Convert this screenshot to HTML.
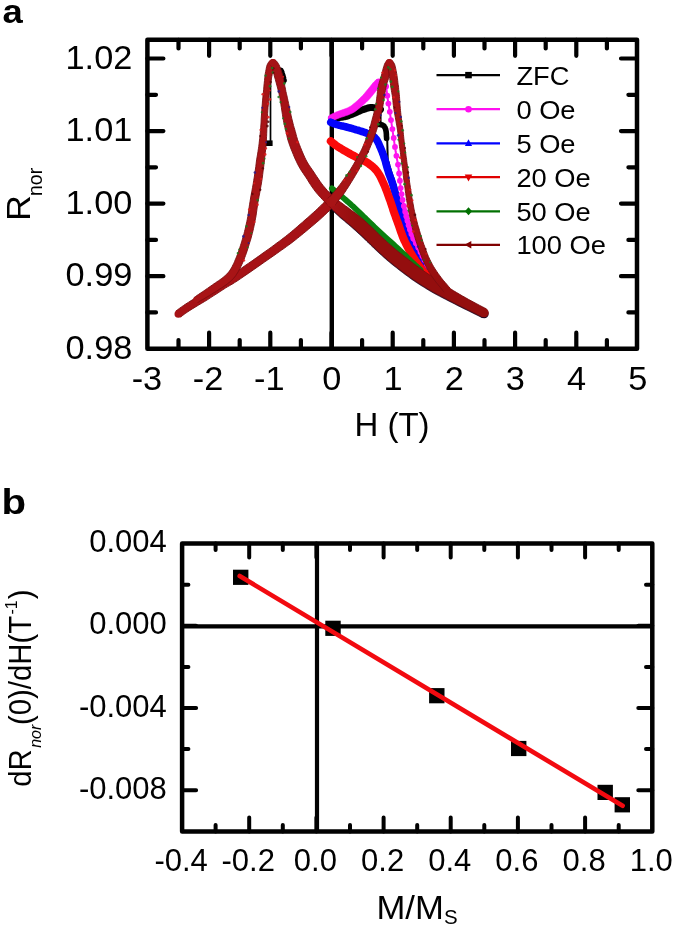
<!DOCTYPE html>
<html><head><meta charset="utf-8"><title>Figure</title>
<style>html,body{margin:0;padding:0;background:#fff;}body{width:675px;height:928px;overflow:hidden;}svg{display:block;will-change:transform;opacity:0.9999;}text{font-family:"Liberation Sans",sans-serif;fill:#000;}</style>
</head><body>
<svg width="675" height="928" viewBox="0 0 675 928">
<rect x="0" y="0" width="675" height="928" fill="#ffffff"/>
<defs><linearGradient id="wg" gradientUnits="userSpaceOnUse" x1="0" y1="205" x2="0" y2="285"><stop offset="0" stop-color="#a81416"/><stop offset="0.5" stop-color="#a41214"/><stop offset="1" stop-color="#940e0e"/></linearGradient><linearGradient id="wr" gradientUnits="userSpaceOnUse" x1="330" y1="0" x2="356" y2="0"><stop offset="0" stop-color="#a61216"/><stop offset="1" stop-color="#940e0e"/></linearGradient></defs>
<g id="curvesA">
<line x1="331.8" y1="39.8" x2="331.8" y2="348.7" stroke="#000" stroke-width="4.4"/>
<line x1="270.5" y1="78" x2="270.5" y2="143" stroke="#000" stroke-width="1.7"/>
<rect x="265.4" y="140.4" width="7.2" height="5.6" fill="#000"/>
<polyline points="280.6,71.0 280.7,71.4 280.9,71.9 281.1,72.6 281.3,73.2 281.6,74.0 281.8,74.7 282.0,75.4 282.2,76.0 282.4,76.6 282.5,77.2 282.7,77.7 282.8,78.3 283.0,78.8 283.1,79.3 283.2,79.7 283.3,80.0" fill="none" stroke="#000" stroke-width="7.0" stroke-linejoin="round" stroke-linecap="round" />
<path d="M328.3,206.6 L329.6,207.8 L331.4,209.5 L333.5,211.5 L335.9,213.7 L338.2,215.8 L340.3,217.8 L342.4,219.5 L344.4,221.1 L346.3,222.8 L348.2,224.3 L350.1,225.9 L352.0,227.6 L353.9,229.3 L355.9,231.0 L357.9,232.9 L359.9,234.7 L361.8,236.5 L363.6,238.2 L365.2,239.7 L366.6,241.1 L368.0,242.4 L369.4,243.8 L370.9,245.3 L372.5,246.8 L374.2,248.5 L376.1,250.3 L378.0,252.1 L380.0,253.9 L381.9,255.6 L383.7,257.3 L385.4,258.7 L386.8,260.0 L388.3,261.3 L389.9,262.6 L391.6,264.0 L393.7,265.7 L396.2,267.6 L399.1,269.9 L402.2,272.3 L405.4,274.7 L408.7,277.1 L411.8,279.4 L414.9,281.5 L417.9,283.5 L421.0,285.5 L424.0,287.3 L427.0,289.2 L430.0,291.0 L433.0,292.8 L436.1,294.4 L439.2,296.1 L442.3,297.7 L445.4,299.3 L448.5,300.9 L451.6,302.5 L454.7,304.1 L457.8,305.7 L460.9,307.2 L463.8,308.7 L466.7,310.1 L469.6,311.5 L472.6,313.0 L475.6,314.5 L478.3,315.8 L480.5,316.9 L482.2,317.7 L486.2,309.7 L484.6,308.8 L482.4,307.7 L479.7,306.3 L476.9,304.8 L473.9,303.2 L471.1,301.7 L468.3,300.2 L465.4,298.5 L462.5,296.9 L459.6,295.2 L456.6,293.4 L453.7,291.7 L450.9,289.9 L448.0,288.0 L445.2,286.1 L442.3,284.2 L439.5,282.3 L436.6,280.4 L433.7,278.5 L430.8,276.6 L427.9,274.7 L425.1,272.8 L422.2,270.8 L419.4,268.8 L416.4,266.6 L413.3,264.3 L410.2,261.9 L407.2,259.5 L404.4,257.3 L401.9,255.3 L399.8,253.7 L398.1,252.4 L396.7,251.2 L395.3,250.1 L393.9,248.9 L392.3,247.5 L390.5,246.0 L388.7,244.3 L386.8,242.6 L384.9,240.9 L383.0,239.2 L381.3,237.6 L379.8,236.1 L378.4,234.7 L377.0,233.4 L375.6,231.9 L374.1,230.4 L372.4,228.8 L370.6,227.1 L368.6,225.3 L366.6,223.4 L364.5,221.5 L362.3,219.6 L360.2,217.8 L358.1,216.1 L356.0,214.5 L354.0,213.0 L351.9,211.5 L349.9,210.0 L347.9,208.4 L345.6,206.8 L343.1,204.9 L340.6,203.1 L338.2,201.3 L336.2,199.9 L334.7,198.8Z" fill="#1a0420" stroke="#1a0420" stroke-width="0.6" stroke-linejoin="round"/><circle cx="331.5" cy="202.7" r="5.00" fill="#1a0420"/><circle cx="484.2" cy="313.7" r="4.50" fill="#1a0420"/>
<polyline points="331.5,119.0 332.2,118.9 333.1,118.7 334.2,118.5 335.4,118.3 336.7,118.1 338.0,117.9 339.3,117.6 340.4,117.4 341.4,117.2 342.4,117.0 343.4,116.9 344.4,116.7 345.4,116.5 346.4,116.3 347.5,116.0 348.7,115.6 350.0,115.1 351.5,114.5 353.0,113.9 354.6,113.2 356.2,112.5 357.7,111.8 359.2,111.2 360.6,110.6 361.9,110.1 363.2,109.6 364.5,109.2 365.7,108.7 366.8,108.4 367.9,108.0 369.0,107.8 370.0,107.6 370.9,107.5 371.8,107.5 372.6,107.5 373.3,107.6 374.0,107.8 374.7,107.9 375.3,108.1 376.0,108.2 376.7,108.3 377.3,108.5 378.0,108.7 378.6,108.9 379.2,109.1 379.7,109.3 380.2,109.5 380.5,109.6" fill="none" stroke="#000" stroke-width="7.0" stroke-linejoin="round" stroke-linecap="round" />
<line x1="380.7" y1="108" x2="380.7" y2="124" stroke="#000" stroke-width="1.7"/>
<polyline points="377.1,124.2 377.6,124.3 378.3,124.3 379.1,124.4 379.9,124.5 380.8,124.6 381.7,124.8 382.5,125.1 383.1,125.4 383.6,125.8 384.1,126.2 384.4,126.7 384.8,127.2 385.1,127.8 385.3,128.5 385.6,129.2 385.8,130.0 386.0,130.9 386.2,132.0 386.3,133.3 386.4,134.5 386.4,135.8 386.5,136.9 386.6,137.8 386.6,138.5" fill="none" stroke="#000" stroke-width="5.6" stroke-linejoin="round" stroke-linecap="round" />
<line x1="387.2" y1="138" x2="387.8" y2="163" stroke="#000" stroke-width="2.0"/>
<path d="M332.4,121.0 L333.0,120.7 L333.8,120.3 L334.7,119.9 L335.7,119.4 L336.8,118.9 L338.1,118.4 L339.7,117.8 L341.7,117.1 L343.9,116.4 L346.1,115.6 L348.2,114.9 L350.0,114.1 L351.5,113.5 L352.6,113.0 L353.7,112.4 L354.8,111.7 L355.9,110.9 L357.2,109.9 L358.7,108.7 L360.5,107.3 L362.3,105.8 L364.3,104.1 L366.2,102.3 L368.1,100.4 L370.0,98.4 L372.0,96.1 L373.9,93.7 L375.7,91.5 L377.3,89.6 L378.6,88.1 L379.5,87.1 L380.1,86.5 L380.5,86.1 L380.8,85.8 L381.1,85.6 L381.5,85.3 L376.5,79.5 L376.3,79.7 L376.0,79.9 L375.5,80.4 L374.8,81.0 L373.9,81.9 L372.8,83.1 L371.5,84.8 L369.9,86.8 L368.1,89.0 L366.2,91.3 L364.4,93.5 L362.7,95.4 L361.1,97.1 L359.3,98.8 L357.6,100.4 L355.9,101.9 L354.3,103.3 L352.8,104.5 L351.7,105.4 L350.8,106.0 L350.2,106.5 L349.5,106.8 L348.6,107.3 L347.4,107.9 L345.8,108.6 L343.8,109.3 L341.7,110.0 L339.5,110.8 L337.5,111.5 L335.7,112.2 L334.2,112.9 L332.9,113.5 L331.8,114.1 L330.8,114.6 L330.1,114.9 L329.6,115.2Z" fill="#ff14ee" stroke="#ff14ee" stroke-width="0.6" stroke-linejoin="round"/><circle cx="331.0" cy="118.1" r="3.20" fill="#ff14ee"/><circle cx="379.0" cy="82.4" r="3.80" fill="#ff14ee"/>
<polyline points="387.8,162.0 388.0,162.8 388.3,163.8 388.6,164.9 388.9,166.2 389.3,167.7 389.8,169.1 390.2,170.6 390.6,172.0 391.0,173.4 391.5,174.9 392.0,176.4 392.6,177.9 393.1,179.4 393.6,181.0 394.1,182.5 394.6,184.0 395.0,185.5 395.5,187.0 395.9,188.4 396.3,189.9 396.6,191.4 397.0,192.8 397.4,194.2 397.8,195.6 398.2,197.0 398.7,198.5 399.1,200.0 399.6,201.5 400.0,202.9 400.4,204.2 400.8,205.2 401.0,206.0" fill="none" stroke="#0a0820" stroke-width="3.4" stroke-linejoin="round" stroke-linecap="round" />
<polyline points="330.8,122.3 331.2,122.5 331.8,122.7 332.4,123.0 333.1,123.3 333.9,123.6 334.8,123.9 335.8,124.3 336.9,124.6 338.1,124.9 339.4,125.3 340.9,125.7 342.4,126.0 344.0,126.4 345.6,126.8 347.2,127.2 348.7,127.6 350.2,128.0 351.7,128.4 353.3,128.9 354.8,129.3 356.3,129.8 357.8,130.2 359.2,130.7 360.6,131.1 361.9,131.5 363.2,131.9 364.5,132.3 365.7,132.7 366.8,133.2 367.9,133.6 369.0,134.0 370.0,134.5 370.9,135.0 371.8,135.4 372.6,135.9 373.3,136.3 374.0,136.8 374.7,137.4 375.3,138.1 376.0,138.9 376.7,139.8 377.3,140.9 377.9,142.0 378.5,143.2 379.1,144.5 379.6,145.8 380.2,147.1 380.7,148.3 381.2,149.5 381.7,150.7 382.2,151.9 382.6,153.2 383.1,154.4 383.6,155.7 384.0,157.1 384.5,158.5 385.0,160.0 385.5,161.7 385.9,163.4 386.4,165.1 386.9,166.9 387.4,168.6 387.9,170.3 388.4,171.9 388.9,173.5 389.5,175.0 390.0,176.4 390.5,177.9 391.1,179.3 391.6,180.8 392.1,182.2 392.6,183.7 393.0,185.2 393.5,186.7 393.9,188.2 394.2,189.7 394.6,191.1 395.0,192.6 395.4,194.1 395.8,195.6 396.2,197.1 396.7,198.6 397.1,200.0 397.5,201.5 398.0,203.0 398.4,204.4 398.9,205.9 399.3,207.4 399.7,208.9 400.2,210.4 400.6,211.9 401.1,213.4 401.5,214.8 402.0,216.3 402.4,217.8 402.9,219.3 403.4,220.8 403.8,222.3 404.3,223.8 404.8,225.3 405.3,226.8 405.8,228.3 406.3,229.7 406.8,231.1 407.3,232.4 407.8,233.7 408.3,234.9 408.8,236.1 409.3,237.3 409.8,238.5 410.4,239.8 411.1,241.2 411.9,242.7 412.7,244.3 413.6,246.0 414.5,247.8 415.5,249.5 416.4,251.2 417.3,252.8 418.2,254.4 419.0,255.9 419.8,257.3 420.6,258.7 421.4,260.1 422.2,261.4 422.9,262.6 423.7,263.9 424.4,265.1 425.2,266.3 426.0,267.6 426.8,268.8 427.6,270.0 428.3,271.1 429.0,272.0 429.6,272.9 430.0,273.5" fill="none" stroke="#0404fb" stroke-width="7.6" stroke-linejoin="round" stroke-linecap="round" />
<polyline points="386.1,86.5 386.2,87.5 386.4,88.8 386.6,90.4 386.8,92.1 387.0,93.9 387.3,95.7 387.5,97.4 387.7,98.9 387.9,100.2 388.1,101.4 388.3,102.5 388.4,103.6 388.6,104.6 388.8,105.7 389.0,106.8 389.2,108.0 389.4,109.3 389.6,110.5 389.8,111.8 390.0,113.2 390.2,114.5 390.4,115.9 390.6,117.3 390.8,118.7 391.0,120.1 391.2,121.6 391.5,123.1 391.7,124.6 391.9,126.1 392.2,127.6 392.4,129.1 392.6,130.6 392.8,132.1 393.0,133.6 393.2,135.0 393.4,136.5 393.7,138.0 393.9,139.4 394.1,140.9 394.3,142.4 394.5,143.9 394.7,145.4 395.0,146.9 395.2,148.4 395.4,149.8 395.6,151.3 395.9,152.8 396.1,154.3 396.4,155.8 396.6,157.3 396.9,158.7 397.2,160.2 397.5,161.7 397.7,163.2 398.0,164.6 398.2,166.1 398.4,167.6 398.6,169.0 398.8,170.5 398.9,171.9 399.1,173.4 399.3,174.9 399.4,176.3 399.6,177.8 399.8,179.3 399.9,180.7 400.1,182.2 400.2,183.7 400.4,185.2 400.5,186.6 400.7,188.1 400.9,189.6 401.1,191.1 401.3,192.6 401.6,194.1 401.8,195.5 402.1,197.0 402.3,198.5 402.6,200.0 402.9,201.5 403.2,203.0 403.5,204.5 403.8,205.9 404.2,207.4 404.5,208.9 404.9,210.3 405.2,211.8 405.6,213.3 406.0,214.8 406.3,216.3 406.7,217.8 407.0,219.3 407.4,220.7 407.8,222.2 408.2,223.7 408.6,225.2 409.0,226.7 409.5,228.2 409.9,229.6 410.4,231.1 410.9,232.6 411.4,234.0 412.0,235.5 412.6,237.0 413.3,238.5 414.1,240.0 414.9,241.6 415.8,243.1 416.6,244.6 417.5,246.2 418.3,247.6 419.1,249.1 419.8,250.5 420.5,251.9 421.2,253.2 421.8,254.6 422.4,255.9 423.1,257.2 423.8,258.6 424.5,260.0 425.3,261.5 426.2,263.2 427.1,264.9 428.1,266.7 429.0,268.3 429.8,269.8 430.5,271.1 431.0,272.0" fill="none" stroke="#ff14ee" stroke-width="2.0" stroke-linejoin="round" stroke-linecap="round" />
<g fill="#ff14ee"><circle cx="386.1" cy="86.5" r="2.9"/><circle cx="387.3" cy="95.7" r="2.9"/><circle cx="388.4" cy="103.6" r="2.9"/><circle cx="389.8" cy="111.8" r="2.9"/><circle cx="391.0" cy="120.1" r="2.9"/><circle cx="392.4" cy="129.1" r="2.9"/><circle cx="393.7" cy="138.0" r="2.9"/><circle cx="395.0" cy="146.9" r="2.9"/><circle cx="396.4" cy="155.8" r="2.9"/><circle cx="398.0" cy="164.6" r="2.9"/><circle cx="399.1" cy="173.4" r="2.9"/><circle cx="399.9" cy="180.7" r="2.9"/><circle cx="400.7" cy="188.1" r="2.9"/><circle cx="401.6" cy="194.1" r="2.9"/><circle cx="402.6" cy="200.0" r="2.9"/><circle cx="403.8" cy="205.9" r="2.9"/><circle cx="405.2" cy="211.8" r="2.9"/><circle cx="406.3" cy="216.3" r="2.9"/><circle cx="407.4" cy="220.7" r="2.9"/><circle cx="408.6" cy="225.2" r="2.9"/><circle cx="409.9" cy="229.6" r="2.9"/><circle cx="411.4" cy="234.0" r="2.9"/><circle cx="413.3" cy="238.5" r="2.9"/><circle cx="415.8" cy="243.1" r="2.9"/><circle cx="418.3" cy="247.6" r="2.9"/><circle cx="420.5" cy="251.9" r="2.9"/><circle cx="422.4" cy="255.9" r="2.9"/><circle cx="424.5" cy="260.0" r="2.9"/><circle cx="427.1" cy="264.9" r="2.9"/><circle cx="429.8" cy="269.8" r="2.9"/></g>
<polyline points="403.8,205.9 404.2,207.4 404.5,208.9 404.9,210.3 405.2,211.8 405.6,213.3 406.0,214.8 406.3,216.3 406.7,217.8 407.0,219.3 407.4,220.7 407.8,222.2 408.2,223.7 408.6,225.2 409.0,226.7 409.5,228.2 409.9,229.6 410.4,231.1 410.9,232.6 411.4,234.0 412.0,235.5 412.6,237.0 413.3,238.5 414.1,240.0 414.9,241.6 415.8,243.1 416.6,244.6 417.5,246.2 418.3,247.6 419.1,249.1 419.8,250.5 420.5,251.9 421.2,253.2 421.8,254.6 422.4,255.9 423.1,257.2 423.8,258.6 424.5,260.0 425.3,261.5 426.2,263.2 427.1,264.9 428.1,266.7 429.0,268.3 429.8,269.8 430.5,271.1 431.0,272.0" fill="none" stroke="#ff14ee" stroke-width="4.4" stroke-linejoin="round" stroke-linecap="round" />
<polyline points="330.8,141.2 331.2,141.6 331.8,142.0 332.4,142.5 333.1,143.2 333.9,143.8 334.8,144.5 335.8,145.3 336.9,146.0 338.1,146.8 339.4,147.6 340.9,148.5 342.4,149.5 344.0,150.4 345.6,151.3 347.2,152.2 348.7,153.1 350.2,153.9 351.8,154.8 353.4,155.6 355.0,156.5 356.5,157.3 358.0,158.0 359.4,158.8 360.6,159.4 361.7,159.9 362.6,160.3 363.4,160.7 364.2,161.0 365.0,161.3 365.7,161.7 366.6,162.2 367.5,162.8 368.6,163.6 369.7,164.4 370.9,165.3 372.2,166.3 373.4,167.4 374.6,168.5 375.7,169.7 376.8,171.0 377.8,172.4 378.7,173.8 379.6,175.3 380.5,176.9 381.3,178.5 382.1,180.2 382.9,182.0 383.7,183.7 384.5,185.5 385.3,187.4 386.0,189.3 386.8,191.3 387.5,193.3 388.2,195.3 388.9,197.2 389.6,199.1 390.3,200.9 390.9,202.8 391.5,204.6 392.1,206.3 392.7,208.1 393.2,209.9 393.8,211.6 394.4,213.3 395.0,215.0 395.6,216.6 396.1,218.2 396.7,219.8 397.3,221.4 397.9,223.0 398.5,224.7 399.1,226.4 399.7,228.1 400.3,229.9 400.9,231.7 401.6,233.5 402.2,235.3 402.9,237.1 403.7,239.0 404.6,241.0 405.6,243.0 406.6,245.2 407.8,247.4 409.0,249.6 410.2,251.9 411.4,254.0 412.6,256.1 413.8,258.0 414.9,259.8 416.1,261.5 417.2,263.2 418.4,264.8 419.5,266.3 420.6,267.7 421.7,269.1 422.7,270.4 423.7,271.6 424.8,272.8 425.9,273.9 426.9,275.0 427.9,275.9 428.7,276.7 429.4,277.4 430.0,278.0" fill="none" stroke="#fb0a0a" stroke-width="8.0" stroke-linejoin="round" stroke-linecap="round" />
<polyline points="331.9,188.3 333.0,189.2 334.4,190.4 336.1,191.9 338.0,193.5 340.0,195.1 342.0,196.8 343.9,198.4 345.5,199.8 346.9,201.0 348.1,202.1 349.2,203.0 350.4,204.0 351.5,205.1 352.8,206.2 354.3,207.6 356.1,209.3 358.2,211.3 360.6,213.6 363.1,216.1 365.9,218.7 368.6,221.4 371.5,224.1 374.2,226.8 376.9,229.3 379.6,231.8 382.3,234.3 385.0,236.8 387.8,239.3 390.4,241.7 393.0,244.0 395.5,246.3 397.8,248.4 399.9,250.4 402.0,252.3 403.9,254.1 405.7,255.9 407.4,257.6 409.0,259.1 410.5,260.6 412.0,262.0 413.4,263.3 414.7,264.6 416.0,265.8 417.1,266.9 418.2,267.8 419.1,268.7 419.9,269.4 420.5,270.0" fill="none" stroke="#0a8010" stroke-width="5.8" stroke-linejoin="round" stroke-linecap="round" />
<path d="M180.6,317.1 L181.5,316.4 L182.7,315.4 L184.2,314.3 L185.9,313.1 L187.8,311.8 L189.9,310.4 L192.3,308.9 L195.1,307.2 L198.2,305.3 L201.4,303.4 L204.6,301.5 L207.7,299.6 L210.7,297.6 L213.8,295.6 L217.0,293.6 L220.0,291.6 L222.8,289.8 L225.4,288.1 L227.5,286.8 L229.3,285.8 L230.8,284.9 L232.6,283.9 L234.6,282.6 L237.3,280.9 L240.7,278.6 L244.6,275.9 L248.9,273.0 L253.3,269.9 L257.5,267.0 L261.2,264.4 L264.6,262.0 L267.8,259.8 L270.8,257.7 L273.7,255.7 L276.5,253.7 L279.2,251.8 L281.7,250.0 L284.2,248.3 L286.5,246.6 L288.7,245.0 L290.9,243.4 L293.1,241.7 L295.3,240.0 L297.4,238.3 L299.4,236.7 L301.5,235.0 L303.7,233.2 L306.0,231.3 L308.5,229.2 L311.2,226.9 L314.0,224.6 L316.8,222.2 L319.6,219.8 L322.1,217.5 L324.6,215.2 L327.1,212.8 L329.6,210.5 L331.7,208.3 L333.5,206.5 L334.9,205.2 L328.1,198.4 L326.8,199.7 L325.0,201.5 L322.8,203.6 L320.5,205.9 L318.0,208.2 L315.7,210.5 L313.2,212.7 L310.6,215.0 L307.9,217.5 L305.1,219.8 L302.5,222.2 L300.0,224.3 L297.8,226.2 L295.7,228.1 L293.7,229.8 L291.7,231.4 L289.8,233.1 L287.7,234.7 L285.6,236.4 L283.4,238.1 L281.3,239.7 L279.1,241.4 L276.7,243.1 L274.2,245.0 L271.6,246.9 L268.9,248.9 L266.0,250.9 L263.0,253.0 L259.9,255.3 L256.6,257.6 L252.8,260.3 L248.6,263.2 L244.2,266.2 L240.0,269.2 L236.0,271.8 L232.7,274.1 L230.2,275.8 L228.3,277.0 L226.7,278.0 L225.1,279.0 L223.4,280.1 L221.2,281.5 L218.6,283.2 L215.7,285.1 L212.7,287.1 L209.6,289.1 L206.5,291.1 L203.5,293.0 L200.5,294.9 L197.4,296.8 L194.2,298.8 L191.1,300.6 L188.3,302.4 L185.7,304.0 L183.5,305.5 L181.5,306.9 L179.7,308.2 L178.2,309.3 L177.0,310.3 L176.0,310.9Z" fill="#a61216" stroke="#7a0c0e" stroke-width="0.9" stroke-linejoin="round"/><circle cx="178.3" cy="314.0" r="3.80" fill="#a61216"/><circle cx="331.5" cy="201.8" r="4.80" fill="#a61216"/>
<path d="M328.3,205.7 L329.6,206.9 L331.4,208.6 L333.5,210.6 L335.9,212.8 L338.2,214.9 L340.3,216.9 L342.4,218.6 L344.4,220.2 L346.3,221.9 L348.2,223.4 L350.1,225.0 L352.0,226.7 L353.9,228.4 L355.9,230.1 L357.9,232.0 L359.9,233.8 L361.8,235.6 L363.6,237.3 L365.2,238.8 L366.6,240.2 L368.0,241.5 L369.4,242.9 L370.9,244.4 L372.5,245.9 L374.2,247.6 L376.1,249.4 L378.0,251.2 L380.0,253.0 L381.9,254.7 L383.7,256.4 L385.4,257.8 L386.8,259.1 L388.3,260.4 L389.9,261.7 L391.6,263.1 L393.7,264.8 L396.2,266.7 L399.1,269.0 L402.2,271.4 L405.4,273.8 L408.7,276.2 L411.8,278.5 L414.9,280.6 L417.9,282.6 L421.0,284.6 L424.0,286.4 L427.0,288.3 L430.0,290.1 L433.0,291.9 L436.1,293.5 L439.2,295.2 L442.3,296.8 L445.4,298.4 L448.5,300.0 L451.6,301.6 L454.7,303.2 L457.8,304.8 L460.9,306.3 L463.8,307.8 L466.7,309.2 L469.6,310.6 L472.6,312.1 L475.6,313.6 L478.3,314.9 L480.5,316.0 L482.2,316.8 L486.2,308.8 L484.6,307.9 L482.4,306.8 L479.7,305.4 L476.9,303.9 L473.9,302.3 L471.1,300.8 L468.3,299.3 L465.4,297.6 L462.5,296.0 L459.6,294.3 L456.6,292.5 L453.7,290.8 L450.9,289.0 L448.0,287.1 L445.2,285.2 L442.3,283.3 L439.5,281.4 L436.6,279.5 L433.7,277.6 L430.8,275.7 L427.9,273.8 L425.1,271.9 L422.2,269.9 L419.4,267.9 L416.4,265.7 L413.3,263.4 L410.2,261.0 L407.2,258.6 L404.4,256.4 L401.9,254.4 L399.8,252.8 L398.1,251.5 L396.7,250.3 L395.3,249.2 L393.9,248.0 L392.3,246.6 L390.5,245.1 L388.7,243.4 L386.8,241.7 L384.9,240.0 L383.0,238.3 L381.3,236.7 L379.8,235.2 L378.4,233.8 L377.0,232.5 L375.6,231.0 L374.1,229.5 L372.4,227.9 L370.6,226.2 L368.6,224.4 L366.6,222.5 L364.5,220.6 L362.3,218.7 L360.2,216.9 L358.1,215.2 L356.0,213.6 L354.0,212.1 L351.9,210.6 L349.9,209.1 L347.9,207.5 L345.6,205.9 L343.1,204.0 L340.6,202.2 L338.2,200.4 L336.2,199.0 L334.7,197.9Z" fill="url(#wr)" stroke="#7a0c0e" stroke-width="0.9" stroke-linejoin="round"/><circle cx="331.5" cy="201.8" r="5.00" fill="url(#wr)"/><circle cx="484.2" cy="312.8" r="4.50" fill="url(#wr)"/>
<path d="M197.6,302.4 L198.7,301.8 L200.2,300.9 L202.1,299.9 L204.1,298.8 L206.0,297.6 L207.9,296.5 L209.6,295.5 L211.3,294.4 L213.1,293.3 L214.8,292.3 L216.5,291.2 L218.1,290.2 L219.7,289.1 L221.3,288.1 L222.9,287.1 L224.4,286.0 L226.0,285.0 L227.4,283.9 L228.7,282.8 L230.0,281.8 L231.2,280.7 L232.4,279.6 L233.5,278.4 L234.6,277.1 L235.7,275.7 L236.6,274.3 L237.5,272.9 L238.4,271.4 L239.2,269.9 L240.0,268.4 L240.8,266.7 L241.7,264.9 L242.5,263.0 L243.3,261.2 L244.1,259.3 L244.8,257.4 L245.5,255.6 L246.2,253.7 L246.8,251.9 L247.4,250.0 L248.0,248.1 L248.6,246.2 L249.2,244.2 L249.8,242.2 L250.5,240.1 L251.1,238.0 L251.7,235.8 L252.3,233.5 L252.9,231.1 L253.5,228.6 L254.0,226.0 L254.6,223.4 L255.1,220.7 L255.6,218.1 L256.1,215.5 L256.4,213.0 L256.8,210.5 L257.1,208.0 L257.5,205.4 L257.9,202.6 L258.5,199.4 L259.1,196.1 L259.8,192.6 L260.4,188.9 L261.1,185.3 L261.7,181.7 L262.2,178.2 L262.7,174.6 L263.1,171.0 L263.6,167.5 L264.0,164.1 L264.4,160.9 L264.7,157.9 L265.0,155.1 L265.3,152.4 L265.6,149.7 L265.9,147.1 L266.1,144.4 L266.3,141.6 L266.4,139.0 L266.6,136.3 L266.7,133.7 L266.8,131.0 L266.9,128.2 L267.0,125.3 L267.2,122.4 L267.3,119.4 L267.5,116.4 L267.6,113.4 L267.8,110.4 L268.0,107.5 L268.3,104.5 L268.5,101.5 L268.8,98.5 L269.1,95.6 L269.4,92.7 L269.8,89.8 L270.1,86.9 L270.5,84.1 L270.9,81.3 L271.4,78.8 L271.8,76.5 L272.2,74.6 L272.6,72.8 L273.0,71.3 L273.4,70.0 L273.8,68.8 L274.2,67.8 L274.4,67.0 L274.7,66.4 L274.9,65.8 L275.2,65.3 L275.6,64.8 L275.8,64.3 L270.0,60.5 L269.7,60.8 L269.4,61.2 L268.8,61.9 L268.2,62.8 L267.6,63.9 L267.0,65.2 L266.6,66.6 L266.3,68.1 L266.0,69.7 L265.7,71.4 L265.3,73.3 L265.0,75.5 L264.8,77.8 L264.5,80.5 L264.2,83.3 L263.9,86.2 L263.7,89.2 L263.4,92.1 L263.1,95.0 L262.8,97.9 L262.5,100.9 L262.3,104.0 L262.0,107.0 L261.8,110.0 L261.6,113.0 L261.4,116.0 L261.2,119.1 L261.1,122.0 L260.9,125.0 L260.7,127.8 L260.5,130.6 L260.2,133.2 L260.0,135.9 L259.7,138.4 L259.4,141.0 L259.1,143.6 L258.8,146.3 L258.4,148.8 L258.0,151.4 L257.6,154.1 L257.1,156.9 L256.6,159.9 L256.2,163.1 L255.8,166.5 L255.3,170.0 L254.8,173.5 L254.3,177.0 L253.7,180.5 L253.2,183.9 L252.5,187.5 L251.9,191.1 L251.2,194.6 L250.6,198.0 L250.1,201.2 L249.6,204.2 L249.2,206.9 L248.9,209.5 L248.5,211.9 L248.2,214.3 L247.8,216.7 L247.3,219.2 L246.8,221.7 L246.2,224.3 L245.7,226.8 L245.1,229.2 L244.5,231.5 L244.0,233.7 L243.4,235.8 L242.8,237.9 L242.2,239.9 L241.6,241.9 L241.0,243.8 L240.4,245.7 L239.8,247.6 L239.2,249.4 L238.6,251.1 L238.0,252.8 L237.4,254.6 L236.7,256.3 L236.0,258.1 L235.2,259.9 L234.5,261.7 L233.8,263.3 L233.0,264.8 L232.3,266.3 L231.5,267.6 L230.8,268.9 L230.1,270.0 L229.4,271.1 L228.6,272.1 L227.7,273.1 L226.9,274.0 L225.9,274.9 L224.9,275.8 L223.8,276.8 L222.6,277.7 L221.3,278.7 L220.0,279.7 L218.6,280.7 L217.0,281.7 L215.5,282.8 L213.9,283.8 L212.3,285.0 L210.7,286.1 L209.0,287.3 L207.4,288.4 L205.7,289.5 L204.1,290.7 L202.4,291.8 L200.5,293.1 L198.7,294.3 L196.9,295.5 L195.5,296.5 L194.4,297.2Z" fill="#a81416" stroke="#7a0c0e" stroke-width="0.9" stroke-linejoin="round"/><circle cx="196.0" cy="299.8" r="3.00" fill="#a81416"/><circle cx="272.9" cy="62.4" r="3.50" fill="#a81416"/>
<path d="M270.1,64.5 L270.4,65.0 L270.8,65.5 L271.1,66.0 L271.5,66.6 L271.8,67.2 L272.1,68.0 L272.5,69.1 L272.9,70.3 L273.3,71.7 L273.7,73.2 L274.1,75.0 L274.6,77.0 L275.3,79.4 L276.0,82.1 L276.8,85.1 L277.6,88.0 L278.3,90.8 L278.9,93.2 L279.3,95.0 L279.5,96.4 L279.8,97.6 L280.0,98.8 L280.2,100.3 L280.6,102.2 L280.9,104.7 L281.4,107.7 L281.9,111.0 L282.4,114.3 L282.9,117.5 L283.4,120.4 L283.9,122.9 L284.4,125.3 L284.9,127.5 L285.4,129.6 L285.9,131.7 L286.4,133.7 L286.8,135.5 L287.2,137.2 L287.6,138.9 L288.1,140.7 L288.8,142.8 L289.6,145.1 L290.6,147.9 L291.9,151.1 L293.3,154.5 L294.7,157.9 L296.2,161.1 L297.6,164.1 L299.0,166.7 L300.4,169.1 L301.7,171.2 L303.1,173.2 L304.4,175.2 L305.8,177.2 L307.3,179.5 L308.8,182.0 L310.4,184.5 L312.1,187.0 L313.9,189.6 L315.8,192.1 L317.9,194.6 L320.3,197.2 L322.6,199.7 L324.8,202.0 L326.7,203.8 L328.0,205.2 L335.0,198.4 L333.7,197.0 L331.8,195.1 L329.7,192.9 L327.4,190.5 L325.3,188.1 L323.4,185.9 L321.8,183.8 L320.1,181.5 L318.5,179.1 L316.9,176.7 L315.3,174.3 L313.8,172.0 L312.3,169.8 L310.9,167.8 L309.6,165.9 L308.4,164.1 L307.2,162.1 L306.0,159.9 L304.7,157.2 L303.3,154.1 L301.9,150.8 L300.6,147.6 L299.4,144.5 L298.4,141.9 L297.6,139.8 L297.1,138.0 L296.6,136.4 L296.2,134.9 L295.8,133.2 L295.2,131.3 L294.7,129.3 L294.1,127.4 L293.5,125.4 L293.0,123.3 L292.4,121.0 L291.8,118.6 L291.2,115.9 L290.5,112.8 L289.9,109.5 L289.2,106.3 L288.6,103.4 L288.0,100.8 L287.6,98.8 L287.3,97.3 L287.0,96.1 L286.7,94.9 L286.4,93.4 L285.9,91.6 L285.5,89.2 L284.9,86.4 L284.3,83.4 L283.7,80.3 L283.1,77.5 L282.6,75.0 L282.0,72.9 L281.4,71.0 L280.8,69.3 L280.2,67.7 L279.7,66.3 L279.1,65.0 L278.4,63.7 L277.7,62.6 L277.0,61.7 L276.4,61.0 L276.0,60.6 L275.7,60.3Z" fill="#a61216" stroke="#7a0c0e" stroke-width="0.9" stroke-linejoin="round"/><circle cx="272.9" cy="62.4" r="3.50" fill="#a61216"/><circle cx="331.5" cy="201.8" r="4.90" fill="#a61216"/>
<path d="M335.2,204.9 L336.2,203.6 L337.5,201.8 L339.2,199.7 L341.0,197.4 L342.9,194.9 L344.8,192.4 L346.5,189.7 L348.4,186.9 L350.2,184.0 L352.0,181.1 L353.8,178.2 L355.4,175.5 L357.0,172.8 L358.5,170.3 L359.9,167.7 L361.2,165.3 L362.5,162.9 L363.7,160.7 L364.8,158.6 L365.8,156.6 L366.8,154.7 L367.8,152.7 L368.7,150.7 L369.7,148.5 L370.7,146.0 L371.8,143.4 L372.9,140.7 L373.9,138.0 L374.8,135.3 L375.7,132.8 L376.5,130.4 L377.2,128.1 L377.8,125.9 L378.3,123.7 L378.8,121.6 L379.4,119.6 L379.9,117.6 L380.5,115.6 L381.1,113.7 L381.6,111.8 L382.1,109.9 L382.5,107.9 L382.9,106.1 L383.2,104.3 L383.5,102.6 L383.8,100.9 L384.0,99.2 L384.3,97.5 L384.5,95.8 L384.8,94.0 L385.1,92.3 L385.4,90.6 L385.7,88.9 L386.0,87.3 L386.4,85.7 L386.8,84.0 L387.3,82.3 L387.9,80.5 L388.4,78.8 L388.9,77.0 L389.3,75.2 L389.7,73.4 L390.1,71.7 L390.5,70.1 L390.8,68.7 L391.1,67.6 L391.4,66.8 L391.6,66.1 L391.8,65.6 L392.1,65.2 L392.3,64.7 L392.5,64.2 L386.3,61.0 L386.1,61.2 L385.8,61.7 L385.5,62.3 L385.0,63.1 L384.5,64.2 L384.1,65.4 L383.7,66.8 L383.2,68.3 L382.8,70.0 L382.4,71.7 L382.0,73.4 L381.5,75.0 L381.1,76.6 L380.5,78.3 L380.0,80.1 L379.4,81.9 L378.9,83.8 L378.4,85.7 L378.0,87.6 L377.8,89.4 L377.5,91.3 L377.3,93.0 L377.2,94.8 L376.9,96.5 L376.7,98.2 L376.5,99.9 L376.3,101.5 L376.0,103.1 L375.8,104.8 L375.5,106.5 L375.1,108.2 L374.7,110.0 L374.2,111.9 L373.7,113.8 L373.2,115.8 L372.6,117.8 L372.1,119.9 L371.5,122.0 L371.0,124.1 L370.4,126.2 L369.8,128.4 L369.1,130.6 L368.2,133.0 L367.3,135.6 L366.3,138.2 L365.3,140.8 L364.3,143.4 L363.3,145.7 L362.4,147.8 L361.5,149.7 L360.6,151.5 L359.6,153.4 L358.6,155.3 L357.5,157.3 L356.3,159.6 L355.0,161.8 L353.6,164.2 L352.2,166.6 L350.7,169.1 L349.2,171.5 L347.4,174.1 L345.5,176.8 L343.6,179.6 L341.6,182.3 L339.7,184.9 L337.8,187.2 L336.0,189.5 L334.1,191.7 L332.2,193.9 L330.5,195.9 L329.0,197.5 L327.8,198.7Z" fill="url(#wg)" stroke="#7a0c0e" stroke-width="0.9" stroke-linejoin="round"/><circle cx="331.5" cy="201.8" r="4.80" fill="url(#wg)"/><circle cx="389.4" cy="62.6" r="3.50" fill="url(#wg)"/>
<path d="M386.4,64.4 L386.7,64.9 L387.0,65.4 L387.2,65.8 L387.4,66.3 L387.6,66.8 L387.8,67.5 L388.1,68.6 L388.4,70.0 L388.6,71.5 L388.9,73.2 L389.2,74.9 L389.4,76.6 L389.7,78.2 L389.9,79.9 L390.2,81.7 L390.4,83.4 L390.6,85.2 L390.8,87.0 L391.1,88.8 L391.4,90.5 L391.7,92.3 L392.0,94.0 L392.3,95.7 L392.5,97.4 L392.7,99.0 L392.9,100.6 L393.0,102.3 L393.2,104.0 L393.4,105.7 L393.6,107.6 L393.9,109.4 L394.2,111.4 L394.6,113.3 L394.9,115.2 L395.3,117.2 L395.6,119.1 L396.0,121.1 L396.3,123.1 L396.7,125.1 L397.0,127.0 L397.3,129.0 L397.6,130.9 L397.9,132.9 L398.1,134.8 L398.3,136.8 L398.5,138.7 L398.8,140.7 L399.0,142.7 L399.3,144.7 L399.5,146.7 L399.8,148.7 L400.1,150.7 L400.4,152.7 L400.6,154.7 L400.9,156.6 L401.1,158.5 L401.4,160.4 L401.7,162.4 L401.9,164.4 L402.2,166.4 L402.5,168.6 L402.8,170.8 L403.0,173.1 L403.3,175.5 L403.6,177.9 L403.9,180.4 L404.3,182.9 L404.6,185.5 L405.0,188.2 L405.3,190.9 L405.7,193.5 L406.0,196.0 L406.4,198.4 L406.7,200.6 L407.1,202.8 L407.4,205.0 L407.8,207.0 L408.2,209.0 L408.5,211.0 L408.9,212.9 L409.2,214.7 L409.6,216.5 L410.0,218.3 L410.4,220.0 L410.7,221.6 L411.1,223.1 L411.4,224.5 L411.8,226.1 L412.3,227.8 L412.8,229.9 L413.5,232.2 L414.2,234.9 L415.0,237.7 L415.9,240.7 L416.9,243.7 L417.9,246.7 L418.9,249.6 L420.0,252.7 L421.2,255.8 L422.4,258.9 L423.7,261.9 L425.0,264.8 L426.5,267.5 L427.9,270.1 L429.4,272.6 L431.0,275.0 L432.5,277.3 L434.1,279.6 L435.9,282.0 L437.9,284.5 L439.9,286.9 L441.7,289.1 L443.2,290.9 L444.3,292.2 L449.7,287.8 L448.5,286.4 L447.0,284.6 L445.2,282.5 L443.2,280.2 L441.3,277.8 L439.7,275.6 L438.1,273.4 L436.6,271.2 L435.1,269.0 L433.7,266.7 L432.3,264.3 L431.0,261.8 L429.7,259.2 L428.4,256.4 L427.2,253.4 L426.1,250.4 L425.0,247.4 L423.9,244.5 L422.9,241.7 L422.0,238.8 L421.1,235.9 L420.2,233.1 L419.5,230.5 L418.8,228.1 L418.2,226.2 L417.7,224.5 L417.3,223.0 L417.0,221.6 L416.6,220.2 L416.2,218.6 L415.8,216.9 L415.4,215.2 L415.0,213.5 L414.6,211.7 L414.2,209.9 L413.8,208.0 L413.5,206.0 L413.1,204.0 L412.7,201.9 L412.3,199.7 L411.9,197.5 L411.6,195.2 L411.2,192.7 L410.8,190.1 L410.4,187.5 L410.0,184.8 L409.6,182.2 L409.3,179.6 L408.9,177.2 L408.6,174.8 L408.3,172.5 L408.0,170.2 L407.7,167.9 L407.4,165.8 L407.1,163.7 L406.8,161.7 L406.6,159.7 L406.3,157.8 L406.0,155.9 L405.8,153.9 L405.5,152.0 L405.2,150.0 L405.0,148.0 L404.7,146.0 L404.4,144.0 L404.2,142.1 L404.0,140.1 L403.8,138.2 L403.6,136.2 L403.4,134.3 L403.2,132.3 L403.0,130.3 L402.7,128.2 L402.5,126.2 L402.2,124.2 L401.9,122.2 L401.6,120.2 L401.4,118.3 L401.1,116.3 L400.9,114.4 L400.7,112.4 L400.5,110.5 L400.3,108.6 L400.2,106.8 L400.0,105.1 L399.9,103.4 L399.8,101.8 L399.7,100.1 L399.6,98.4 L399.5,96.6 L399.3,94.8 L399.1,93.0 L398.9,91.3 L398.7,89.5 L398.6,87.7 L398.4,86.0 L398.1,84.3 L397.9,82.5 L397.7,80.7 L397.5,78.9 L397.2,77.1 L397.0,75.4 L396.7,73.7 L396.4,71.9 L396.0,70.2 L395.7,68.5 L395.3,66.9 L395.0,65.5 L394.5,64.1 L393.9,63.0 L393.4,62.1 L392.9,61.4 L392.6,61.0 L392.4,60.8Z" fill="url(#wg)" stroke="#7a0c0e" stroke-width="0.9" stroke-linejoin="round"/><circle cx="389.4" cy="62.6" r="3.50" fill="url(#wg)"/><circle cx="447.0" cy="290.0" r="3.50" fill="url(#wg)"/>
<g opacity="0.85"><circle cx="244.0" cy="260.4" r="1.2" fill="#e01818"/><circle cx="237.7" cy="253.2" r="1.1" fill="#1c7a1c"/><circle cx="239.0" cy="249.3" r="0.9" fill="#1c7a1c"/><circle cx="247.7" cy="247.5" r="0.9" fill="#1c7a1c"/><circle cx="248.5" cy="242.9" r="1.0" fill="#2a1a8a"/><circle cx="243.4" cy="236.4" r="1.4" fill="#2a1a8a"/><circle cx="251.2" cy="233.2" r="0.9" fill="#1c7a1c"/><circle cx="246.5" cy="226.3" r="1.2" fill="#1c7a1c"/><circle cx="254.6" cy="222.0" r="1.0" fill="#e01818"/><circle cx="248.7" cy="215.0" r="1.3" fill="#2a1a8a"/><circle cx="249.1" cy="209.5" r="1.2" fill="#e01818"/><circle cx="257.6" cy="204.7" r="1.2" fill="#e01818"/><circle cx="257.7" cy="200.1" r="1.3" fill="#1c7a1c"/><circle cx="252.4" cy="194.0" r="1.2" fill="#5a0808"/><circle cx="260.2" cy="189.8" r="1.2" fill="#5a0808"/><circle cx="254.3" cy="183.2" r="1.0" fill="#e01818"/><circle cx="261.1" cy="178.9" r="1.1" fill="#e01818"/><circle cx="254.9" cy="172.6" r="1.3" fill="#2a1a8a"/><circle cx="262.9" cy="168.3" r="1.2" fill="#5a0808"/><circle cx="263.1" cy="163.2" r="1.4" fill="#1c7a1c"/><circle cx="264.7" cy="158.7" r="0.9" fill="#1c7a1c"/><circle cx="265.2" cy="154.4" r="1.3" fill="#e01818"/><circle cx="266.1" cy="148.4" r="1.1" fill="#e01818"/><circle cx="266.1" cy="142.3" r="1.0" fill="#2a1a8a"/><circle cx="260.1" cy="135.9" r="1.0" fill="#5a0808"/><circle cx="260.2" cy="129.9" r="0.9" fill="#e01818"/><circle cx="267.4" cy="126.1" r="1.3" fill="#5a0808"/><circle cx="268.3" cy="121.7" r="1.3" fill="#5a0808"/><circle cx="268.3" cy="117.2" r="1.4" fill="#e01818"/><circle cx="261.7" cy="112.2" r="1.0" fill="#1c7a1c"/><circle cx="262.2" cy="107.7" r="1.0" fill="#2a1a8a"/><circle cx="268.1" cy="103.7" r="1.2" fill="#e01818"/><circle cx="270.1" cy="99.4" r="1.3" fill="#e01818"/><circle cx="262.7" cy="94.2" r="1.3" fill="#e01818"/><circle cx="270.0" cy="90.6" r="1.0" fill="#e01818"/><circle cx="270.0" cy="86.2" r="1.4" fill="#1c7a1c"/><circle cx="270.7" cy="82.0" r="1.2" fill="#5a0808"/><circle cx="265.6" cy="75.6" r="1.2" fill="#1c7a1c"/><circle cx="272.9" cy="72.5" r="1.3" fill="#1c7a1c"/><circle cx="273.2" cy="68.3" r="1.4" fill="#5a0808"/><circle cx="272.1" cy="68.0" r="1.3" fill="#1c7a1c"/><circle cx="273.7" cy="72.8" r="0.9" fill="#5a0808"/><circle cx="283.2" cy="76.7" r="1.0" fill="#e01818"/><circle cx="284.4" cy="83.4" r="1.4" fill="#1c7a1c"/><circle cx="278.8" cy="91.4" r="1.4" fill="#2a1a8a"/><circle cx="278.6" cy="97.0" r="1.2" fill="#1c7a1c"/><circle cx="280.5" cy="102.2" r="1.1" fill="#1c7a1c"/><circle cx="289.3" cy="107.1" r="1.1" fill="#2a1a8a"/><circle cx="290.3" cy="112.0" r="1.3" fill="#1c7a1c"/><circle cx="283.0" cy="118.2" r="1.0" fill="#1c7a1c"/><circle cx="284.9" cy="124.0" r="1.4" fill="#1c7a1c"/><circle cx="285.9" cy="129.0" r="1.2" fill="#1c7a1c"/><circle cx="287.1" cy="133.5" r="1.4" fill="#e01818"/><circle cx="289.1" cy="138.5" r="1.0" fill="#1c7a1c"/><circle cx="297.4" cy="142.3" r="1.2" fill="#e01818"/><circle cx="344.2" cy="180.0" r="1.1" fill="#e01818"/><circle cx="346.6" cy="175.5" r="1.4" fill="#1c7a1c"/><circle cx="349.6" cy="171.8" r="1.1" fill="#1c7a1c"/><circle cx="356.9" cy="171.0" r="1.1" fill="#e01818"/><circle cx="360.9" cy="165.9" r="1.3" fill="#1c7a1c"/><circle cx="357.1" cy="157.1" r="1.0" fill="#1c7a1c"/><circle cx="366.3" cy="156.2" r="1.2" fill="#1c7a1c"/><circle cx="368.2" cy="151.7" r="1.0" fill="#5a0808"/><circle cx="364.9" cy="144.3" r="1.2" fill="#e01818"/><circle cx="366.7" cy="138.3" r="1.3" fill="#1c7a1c"/><circle cx="369.4" cy="132.7" r="1.0" fill="#1c7a1c"/><circle cx="370.0" cy="127.2" r="1.0" fill="#5a0808"/><circle cx="378.4" cy="124.3" r="1.4" fill="#1c7a1c"/><circle cx="379.7" cy="119.7" r="1.2" fill="#e01818"/><circle cx="380.8" cy="115.2" r="1.0" fill="#2a1a8a"/><circle cx="375.2" cy="109.2" r="1.3" fill="#1c7a1c"/><circle cx="376.1" cy="104.0" r="1.0" fill="#1c7a1c"/><circle cx="383.6" cy="100.0" r="1.2" fill="#1c7a1c"/><circle cx="384.4" cy="94.9" r="1.2" fill="#2a1a8a"/><circle cx="378.0" cy="88.5" r="1.0" fill="#1c7a1c"/><circle cx="385.4" cy="84.5" r="1.2" fill="#1c7a1c"/><circle cx="381.0" cy="77.5" r="1.1" fill="#1c7a1c"/><circle cx="382.4" cy="72.6" r="1.2" fill="#e01818"/><circle cx="390.2" cy="69.3" r="1.2" fill="#1c7a1c"/><circle cx="388.3" cy="67.4" r="1.3" fill="#1c7a1c"/><circle cx="394.9" cy="70.4" r="1.1" fill="#e01818"/><circle cx="396.1" cy="75.5" r="0.9" fill="#e01818"/><circle cx="390.9" cy="81.6" r="1.4" fill="#1c7a1c"/><circle cx="392.3" cy="86.8" r="1.4" fill="#1c7a1c"/><circle cx="398.3" cy="91.4" r="1.1" fill="#1c7a1c"/><circle cx="393.7" cy="97.3" r="1.3" fill="#e01818"/><circle cx="399.4" cy="101.8" r="1.1" fill="#2a1a8a"/><circle cx="394.6" cy="107.5" r="0.9" fill="#5a0808"/><circle cx="395.5" cy="113.1" r="1.1" fill="#2a1a8a"/><circle cx="400.8" cy="116.9" r="1.2" fill="#2a1a8a"/><circle cx="401.2" cy="121.3" r="1.4" fill="#1c7a1c"/><circle cx="401.8" cy="125.8" r="0.9" fill="#5a0808"/><circle cx="402.7" cy="130.3" r="1.3" fill="#1c7a1c"/><circle cx="398.2" cy="135.3" r="1.4" fill="#2a1a8a"/><circle cx="398.3" cy="139.8" r="1.0" fill="#1c7a1c"/><circle cx="404.4" cy="143.6" r="1.0" fill="#1c7a1c"/><circle cx="405.2" cy="148.0" r="0.9" fill="#5a0808"/><circle cx="405.2" cy="152.5" r="1.1" fill="#1c7a1c"/><circle cx="400.3" cy="157.7" r="1.4" fill="#e01818"/><circle cx="401.6" cy="163.4" r="1.2" fill="#1c7a1c"/><circle cx="408.2" cy="167.3" r="1.0" fill="#1c7a1c"/><circle cx="408.0" cy="172.5" r="1.2" fill="#5a0808"/><circle cx="408.8" cy="177.8" r="1.2" fill="#2a1a8a"/><circle cx="404.6" cy="184.2" r="1.4" fill="#1c7a1c"/><circle cx="410.1" cy="189.6" r="1.2" fill="#e01818"/><circle cx="411.5" cy="195.2" r="1.4" fill="#1c7a1c"/><circle cx="412.5" cy="200.3" r="1.1" fill="#e01818"/><circle cx="407.7" cy="206.0" r="1.4" fill="#e01818"/><circle cx="408.4" cy="210.5" r="1.1" fill="#1c7a1c"/><circle cx="414.9" cy="214.9" r="1.4" fill="#5a0808"/><circle cx="415.6" cy="220.0" r="1.3" fill="#e01818"/><circle cx="412.1" cy="225.6" r="0.9" fill="#1c7a1c"/><circle cx="413.3" cy="231.6" r="1.4" fill="#e01818"/><circle cx="420.9" cy="236.0" r="1.1" fill="#1c7a1c"/><circle cx="421.7" cy="240.5" r="1.0" fill="#1c7a1c"/><circle cx="417.8" cy="246.7" r="1.1" fill="#2a1a8a"/><circle cx="425.6" cy="248.9" r="1.0" fill="#5a0808"/><circle cx="426.2" cy="253.8" r="0.9" fill="#e01818"/><circle cx="423.6" cy="260.2" r="1.0" fill="#1c7a1c"/><circle cx="430.0" cy="262.3" r="1.0" fill="#1c7a1c"/></g>
</g>
<rect x="147.4" y="39.8" width="489.6" height="308.9" fill="none" stroke="#000" stroke-width="4.5" stroke-linejoin="round"/>
<path d="M178.5,39.8 v8.6 M178.5,348.7 v-8.6 M209.1,39.8 v16.0 M209.1,348.7 v-16.0 M239.7,39.8 v8.6 M239.7,348.7 v-8.6 M270.3,39.8 v16.0 M270.3,348.7 v-16.0 M300.9,39.8 v8.6 M300.9,348.7 v-8.6 M331.5,39.8 v16.0 M331.5,348.7 v-16.0 M362.1,39.8 v8.6 M362.1,348.7 v-8.6 M392.7,39.8 v16.0 M392.7,348.7 v-16.0 M423.3,39.8 v8.6 M423.3,348.7 v-8.6 M453.9,39.8 v16.0 M453.9,348.7 v-16.0 M484.5,39.8 v8.6 M484.5,348.7 v-8.6 M515.1,39.8 v16.0 M515.1,348.7 v-16.0 M545.7,39.8 v8.6 M545.7,348.7 v-8.6 M576.3,39.8 v16.0 M576.3,348.7 v-16.0 M606.9,39.8 v8.6 M606.9,348.7 v-8.6 M147.4,312.4 h8.6 M637.0,312.4 h-8.6 M147.4,276.2 h16.0 M637.0,276.2 h-16.0 M147.4,239.9 h8.6 M637.0,239.9 h-8.6 M147.4,203.6 h16.0 M637.0,203.6 h-16.0 M147.4,167.3 h8.6 M637.0,167.3 h-8.6 M147.4,131.1 h16.0 M637.0,131.1 h-16.0 M147.4,94.8 h8.6 M637.0,94.8 h-8.6 M147.4,58.5 h16.0 M637.0,58.5 h-16.0" stroke="#000" stroke-width="4.2" stroke-linecap="round" fill="none"/>
<text transform="translate(132.3,68.6) scale(1.04,1)" font-size="33" text-anchor="end" >1.02</text>
<text transform="translate(132.3,141.2) scale(1.04,1)" font-size="33" text-anchor="end" >1.01</text>
<text transform="translate(132.3,213.7) scale(1.04,1)" font-size="33" text-anchor="end" >1.00</text>
<text transform="translate(132.3,286.3) scale(1.04,1)" font-size="33" text-anchor="end" >0.99</text>
<text transform="translate(132.3,358.8) scale(1.04,1)" font-size="33" text-anchor="end" >0.98</text>
<text transform="translate(146.9,390.3) scale(1.04,1)" font-size="33" text-anchor="middle" >-3</text>
<text transform="translate(208.1,390.3) scale(1.04,1)" font-size="33" text-anchor="middle" >-2</text>
<text transform="translate(269.3,390.3) scale(1.04,1)" font-size="33" text-anchor="middle" >-1</text>
<text transform="translate(331.8,390.3) scale(1.04,1)" font-size="33" text-anchor="middle" >0</text>
<text transform="translate(393.0,390.3) scale(1.04,1)" font-size="33" text-anchor="middle" >1</text>
<text transform="translate(454.2,390.3) scale(1.04,1)" font-size="33" text-anchor="middle" >2</text>
<text transform="translate(515.4,390.3) scale(1.04,1)" font-size="33" text-anchor="middle" >3</text>
<text transform="translate(576.6,390.3) scale(1.04,1)" font-size="33" text-anchor="middle" >4</text>
<text transform="translate(637.8,390.3) scale(1.04,1)" font-size="33" text-anchor="middle" >5</text>
<text transform="translate(392.0,436.3) scale(1.0,1)" font-size="33" text-anchor="middle" >H (T)</text>
<g transform="translate(30,221.0) rotate(-90)"><text font-size="33" transform="scale(1.09,1.03)" x="0" y="0">R</text><text font-size="19.5" x="25.0" y="11.8">nor</text></g>
<text transform="translate(2.6,23.1) scale(1.09,1)" font-size="33.4" font-weight="bold">a</text>
<line x1="436.5" y1="75.1" x2="500" y2="75.1" stroke="#000" stroke-width="2.3"/>
<rect x="465.2" y="71.89999999999999" width="6.6" height="6.4" fill="#000"/>
<text transform="translate(516.4,84.5) scale(1.05,1)" font-size="26" text-anchor="start" >ZFC</text>
<line x1="436.5" y1="109.2" x2="500" y2="109.2" stroke="#ff10f0" stroke-width="2.3"/>
<circle cx="468.5" cy="109.2" r="3.3" fill="#ff10f0"/>
<text transform="translate(516.4,118.6) scale(1.05,1)" font-size="26" text-anchor="start" >0 Oe</text>
<line x1="436.5" y1="143.3" x2="500" y2="143.3" stroke="#0000ff" stroke-width="2.3"/>
<path d="M464.9,146.10000000000002 L472.1,146.10000000000002 L468.5,139.3 Z" fill="#0000ff"/>
<text transform="translate(516.4,152.7) scale(1.05,1)" font-size="26" text-anchor="start" >5 Oe</text>
<line x1="436.5" y1="177.2" x2="500" y2="177.2" stroke="#e00000" stroke-width="2.3"/>
<path d="M464.7,174.39999999999998 L472.3,174.39999999999998 L468.5,181.39999999999998 Z" fill="#e00000"/>
<text transform="translate(516.4,186.6) scale(1.05,1)" font-size="26" text-anchor="start" >20 Oe</text>
<line x1="436.5" y1="211.3" x2="500" y2="211.3" stroke="#007000" stroke-width="2.3"/>
<path d="M464.9,211.3 L468.5,207.3 L472.1,211.3 L468.5,215.3 Z" fill="#007000"/>
<text transform="translate(516.4,220.7) scale(1.05,1)" font-size="26" text-anchor="start" >50 Oe</text>
<line x1="436.5" y1="244.8" x2="500" y2="244.8" stroke="#800000" stroke-width="2.3"/>
<path d="M471.3,241.0 L471.3,248.60000000000002 L464.5,244.8 Z" fill="#800000"/>
<text transform="translate(516.4,254.2) scale(1.05,1)" font-size="26" text-anchor="start" >100 Oe</text>
<line x1="317.0" y1="543.6" x2="317.0" y2="831.4" stroke="#000" stroke-width="4.2"/>
<line x1="182.1" y1="626.4" x2="652.3" y2="626.4" stroke="#000" stroke-width="4.2"/>
<rect x="233.0" y="569.7" width="15.4" height="15.2" fill="#000"/>
<rect x="325.3" y="620.7" width="15.4" height="15.2" fill="#000"/>
<rect x="429.1" y="688.1" width="15.4" height="15.2" fill="#000"/>
<rect x="511.0" y="740.9" width="15.4" height="15.2" fill="#000"/>
<rect x="597.5" y="784.8" width="15.4" height="15.2" fill="#000"/>
<rect x="614.6" y="797.2" width="15.4" height="15.2" fill="#000"/>
<line x1="239.7" y1="576.0" x2="622.6" y2="805.8" stroke="#f20a10" stroke-width="4.6" stroke-linecap="round"/>
<rect x="182.1" y="543.6" width="470.19999999999993" height="287.79999999999995" fill="none" stroke="#000" stroke-width="4.5" stroke-linejoin="round"/>
<path d="M215.6,543.6 v6.3 M215.6,831.4 v-6.3 M249.2,543.6 v14.0 M249.2,831.4 v-14.0 M282.8,543.6 v6.3 M282.8,831.4 v-6.3 M316.4,543.6 v14.0 M316.4,831.4 v-14.0 M350.0,543.6 v6.3 M350.0,831.4 v-6.3 M383.6,543.6 v14.0 M383.6,831.4 v-14.0 M417.2,543.6 v6.3 M417.2,831.4 v-6.3 M450.7,543.6 v14.0 M450.7,831.4 v-14.0 M484.3,543.6 v6.3 M484.3,831.4 v-6.3 M517.9,543.6 v14.0 M517.9,831.4 v-14.0 M551.5,543.6 v6.3 M551.5,831.4 v-6.3 M585.1,543.6 v14.0 M585.1,831.4 v-14.0 M618.7,543.6 v6.3 M618.7,831.4 v-6.3 M182.1,790.3 h14.0 M652.3,790.3 h-14.0 M182.1,749.1 h6.3 M652.3,749.1 h-6.3 M182.1,708.0 h14.0 M652.3,708.0 h-14.0 M182.1,666.9 h6.3 M652.3,666.9 h-6.3 M182.1,625.8 h14.0 M652.3,625.8 h-14.0 M182.1,584.7 h6.3 M652.3,584.7 h-6.3" stroke="#000" stroke-width="4.0" stroke-linecap="round" fill="none"/>
<text transform="translate(166.8,552.2) scale(1.0,1)" font-size="31" text-anchor="end" >0.004</text>
<text transform="translate(166.8,634.4) scale(1.0,1)" font-size="31" text-anchor="end" >0.000</text>
<text transform="translate(166.8,716.6) scale(1.0,1)" font-size="31" text-anchor="end" >-0.004</text>
<text transform="translate(166.8,798.9) scale(1.0,1)" font-size="31" text-anchor="end" >-0.008</text>
<text transform="translate(181.1,871.0) scale(1.0,1)" font-size="31" text-anchor="middle" >-0.4</text>
<text transform="translate(248.2,871.0) scale(1.0,1)" font-size="31" text-anchor="middle" >-0.2</text>
<text transform="translate(315.4,871.0) scale(1.0,1)" font-size="31" text-anchor="middle" >0.0</text>
<text transform="translate(382.6,871.0) scale(1.0,1)" font-size="31" text-anchor="middle" >0.2</text>
<text transform="translate(449.7,871.0) scale(1.0,1)" font-size="31" text-anchor="middle" >0.4</text>
<text transform="translate(516.9,871.0) scale(1.0,1)" font-size="31" text-anchor="middle" >0.6</text>
<text transform="translate(584.1,871.0) scale(1.0,1)" font-size="31" text-anchor="middle" >0.8</text>
<text transform="translate(651.3,871.0) scale(1.0,1)" font-size="31" text-anchor="middle" >1.0</text>
<g transform="translate(376.4,919.0) scale(1.05,1)"><text font-size="33" x="0" y="0">M/M</text><text font-size="19.5" x="64.4" y="5.2">S</text></g>
<g transform="translate(31.1,786.8) rotate(-90) scale(1,1.06)"><text font-size="29.3" x="0" y="0">dR</text><text font-size="16" font-style="italic" x="39.0" y="9.7">nor</text><text font-size="29.3" x="61.8" y="0">(0)/dH(T</text><text font-size="16" x="172.2" y="-13.5">-1</text><text font-size="29.3" x="187.6" y="0">)</text></g>
<text transform="translate(1.4,513.8) scale(1.13,1)" font-size="35.6" font-weight="bold">b</text>
</svg></body></html>
